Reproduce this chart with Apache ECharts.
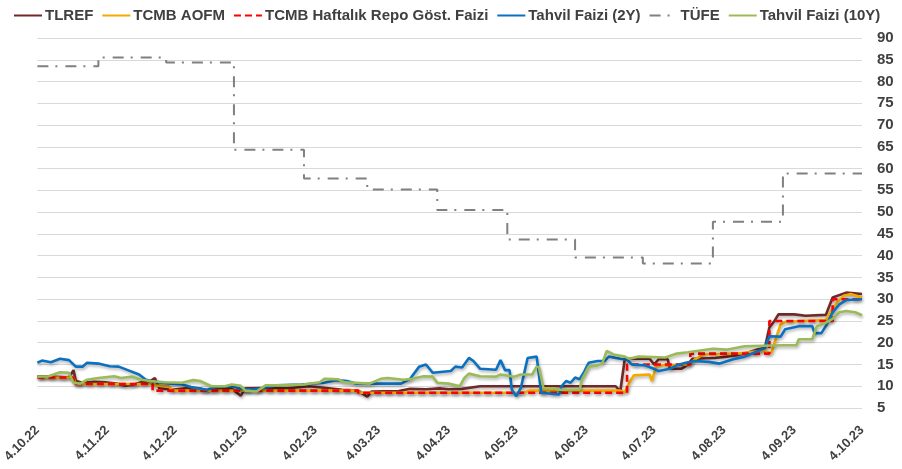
<!DOCTYPE html>
<html>
<head>
<meta charset="utf-8">
<script src="https://cdn.jsdelivr.net/npm/echarts@6/dist/echarts.min.js"></script>
<style>
  html, body { margin: 0; padding: 0; background: #fff; }
  #chart { width: 902px; height: 469px; }
</style>
</head>
<body>
<div id="chart"></div>
<script>
// values, [date, %]
const startDate = '2022-10-04'
const tickDates = ['2022-10-04', '2022-11-04', '2022-12-04', '2023-01-04', '2023-02-04', '2023-03-04',
  '2023-04-04', '2023-05-04', '2023-06-04', '2023-07-04', '2023-08-04', '2023-09-04', '2023-10-04']

const tlref = [
  ['2022-10-04', 12.3], ['2022-10-09', 12.2], ['2022-10-14', 12.1], ['2022-10-18', 12.0], ['2022-10-20', 13.7],
  ['2022-10-21', 11.2], ['2022-10-24', 10.8], ['2022-10-29', 11.0], ['2022-11-03', 10.9], ['2022-11-08', 10.6],
  ['2022-11-12', 10.1], ['2022-11-15', 10.3], ['2022-11-19', 10.9], ['2022-11-23', 11.2], ['2022-11-25', 11.9],
  ['2022-11-27', 9.5], ['2022-12-03', 9.2], ['2022-12-09', 9.6], ['2022-12-15', 9.5], ['2022-12-19', 8.9],
  ['2022-12-23', 9.4], ['2022-12-29', 9.5], ['2023-01-02', 7.8], ['2023-01-04', 9.5], ['2023-01-12', 9.6],
  ['2023-01-22', 9.5], ['2023-02-01', 10.0], ['2023-02-09', 9.6], ['2023-02-16', 9.2], ['2023-02-23', 9.0],
  ['2023-02-27', 7.6], ['2023-03-01', 8.8], ['2023-03-13', 8.9], ['2023-03-18', 9.4], ['2023-03-25', 9.3],
  ['2023-03-31', 9.5], ['2023-04-04', 9.3], ['2023-04-10', 9.4], ['2023-04-18', 10.0], ['2023-06-17', 10.0],
  ['2023-06-19', 8.8], ['2023-06-21', 16.3], ['2023-07-02', 16.3], ['2023-07-04', 15.0], ['2023-07-06', 16.2],
  ['2023-07-10', 16.2], ['2023-07-11', 14.0], ['2023-07-16', 14.0], ['2023-07-18', 14.6], ['2023-07-21', 16.3],
  ['2023-07-31', 16.5], ['2023-08-05', 16.8], ['2023-08-10', 17.2], ['2023-08-15', 17.8], ['2023-08-19', 18.5],
  ['2023-08-22', 18.8], ['2023-08-24', 23.5], ['2023-08-26', 24.8], ['2023-08-28', 26.5], ['2023-09-04', 26.5],
  ['2023-09-09', 26.2], ['2023-09-18', 26.4], ['2023-09-21', 30.4], ['2023-09-27', 31.5], ['2023-10-04', 31.2]
]

const aofm = [
  ['2022-10-04', 12.0], ['2022-10-20', 12.0], ['2022-10-21', 10.5], ['2022-11-24', 10.5], ['2022-11-25', 10.2],
  ['2022-12-01', 10.0], ['2022-12-03', 9.0], ['2023-02-23', 9.0], ['2023-02-24', 8.5], ['2023-05-07', 8.5],
  ['2023-05-10', 9.0], ['2023-06-19', 9.0], ['2023-06-21', 8.6], ['2023-06-23', 10.8], ['2023-06-25', 12.5],
  ['2023-07-02', 12.7], ['2023-07-03', 11.2], ['2023-07-05', 14.8], ['2023-07-20', 15.0], ['2023-07-22', 16.2],
  ['2023-07-26', 17.3], ['2023-08-10', 17.5], ['2023-08-20', 18.1], ['2023-08-25', 17.7], ['2023-08-27', 21.2],
  ['2023-08-29', 24.2], ['2023-08-31', 24.8], ['2023-09-18', 25.2], ['2023-09-20', 27.0], ['2023-09-23', 29.2],
  ['2023-09-26', 30.8], ['2023-09-29', 31.2], ['2023-10-04', 30.4]
]

// policy rate, held until the next date
const repo = [
  ['2022-10-04', 12], ['2022-10-20', 10.5], ['2022-11-24', 9], ['2023-02-23', 8.5], ['2023-06-22', 15],
  ['2023-07-20', 17.5], ['2023-08-24', 25], ['2023-09-21', 30], ['2023-10-04', 30]
]

const bond2y = [
  ['2022-10-04', 15.4], ['2022-10-06', 15.9], ['2022-10-10', 15.5], ['2022-10-14', 16.3], ['2022-10-18', 16.0],
  ['2022-10-21', 14.5], ['2022-10-24', 14.5], ['2022-10-26', 15.4], ['2022-10-31', 15.2], ['2022-11-05', 14.6],
  ['2022-11-09', 14.5], ['2022-11-13', 13.7], ['2022-11-18', 12.7], ['2022-11-21', 11.5], ['2022-11-26', 10.9],
  ['2022-12-02', 10.6], ['2022-12-07', 10.4], ['2022-12-11', 9.8], ['2022-12-18', 9.2], ['2022-12-22', 9.8],
  ['2022-12-29', 10.0], ['2023-01-02', 9.4], ['2023-01-07', 9.2], ['2023-01-12', 9.6], ['2023-01-18', 10.2],
  ['2023-01-29', 10.4], ['2023-02-08', 10.8], ['2023-02-13', 11.4], ['2023-02-18', 11.2], ['2023-02-22', 10.6],
  ['2023-03-08', 10.6], ['2023-03-14', 10.6], ['2023-03-18', 11.7], ['2023-03-22', 14.5], ['2023-03-25', 15.0],
  ['2023-03-28', 13.1], ['2023-04-05', 13.5], ['2023-04-07', 14.5], ['2023-04-10', 14.3], ['2023-04-13', 16.5],
  ['2023-04-15', 15.8], ['2023-04-18', 14.0], ['2023-04-25', 13.8], ['2023-04-27', 16.0], ['2023-04-29', 13.7],
  ['2023-05-01', 13.7], ['2023-05-02', 9.2], ['2023-05-04', 7.7], ['2023-05-06', 9.6], ['2023-05-09', 16.5],
  ['2023-05-13', 16.8], ['2023-05-15', 8.5], ['2023-05-23', 8.1], ['2023-05-24', 10.0], ['2023-05-26', 11.2],
  ['2023-05-28', 10.8], ['2023-05-30', 12.0], ['2023-06-01', 11.6], ['2023-06-03', 13.3], ['2023-06-05', 15.4],
  ['2023-06-09', 15.8], ['2023-06-12', 15.8], ['2023-06-14', 16.8], ['2023-06-19', 16.3], ['2023-06-22', 16.1],
  ['2023-06-24', 15.0], ['2023-06-30', 14.8], ['2023-07-03', 14.2], ['2023-07-06', 13.5], ['2023-07-11', 14.0],
  ['2023-07-14', 14.8], ['2023-07-18', 15.4], ['2023-07-22', 15.8], ['2023-07-28', 15.6], ['2023-08-02', 15.2],
  ['2023-08-08', 16.2], ['2023-08-13', 16.8], ['2023-08-19', 18.1], ['2023-08-22', 18.8], ['2023-08-24', 21.5],
  ['2023-08-29', 21.4], ['2023-08-31', 23.1], ['2023-09-06', 23.8], ['2023-09-12', 23.8], ['2023-09-13', 22.2],
  ['2023-09-16', 22.2], ['2023-09-18', 23.8], ['2023-09-21', 27.0], ['2023-09-24', 28.8], ['2023-09-27', 29.8],
  ['2023-10-04', 30.0]
]

// monthly CPI, held until the next date
const tufe = [
  ['2022-10-04', 83.5], ['2022-10-31', 85.5], ['2022-11-30', 84.4], ['2022-12-30', 64.3], ['2023-01-30', 57.7],
  ['2023-02-27', 55.2], ['2023-03-30', 50.5], ['2023-04-30', 43.7], ['2023-05-30', 39.6], ['2023-06-29', 38.2],
  ['2023-07-30', 47.8], ['2023-08-30', 58.9], ['2023-10-04', 58.9]
]

const bond10y = [
  ['2022-10-04', 12.2], ['2022-10-09', 12.3], ['2022-10-14', 13.2], ['2022-10-18', 13.1], ['2022-10-20', 10.8],
  ['2022-10-23', 10.6], ['2022-10-26', 11.5], ['2022-10-31', 11.9], ['2022-11-07', 12.3], ['2022-11-10', 11.9],
  ['2022-11-15', 12.2], ['2022-11-19', 11.5], ['2022-11-23', 11.2], ['2022-11-29', 10.9], ['2022-12-07', 10.8],
  ['2022-12-12', 11.4], ['2022-12-15', 11.2], ['2022-12-20', 10.0], ['2022-12-26', 10.0], ['2022-12-29', 10.4],
  ['2023-01-02', 10.1], ['2023-01-04', 9.0], ['2023-01-09', 8.8], ['2023-01-13', 10.2], ['2023-01-22', 10.2],
  ['2023-01-30', 10.4], ['2023-02-06', 10.9], ['2023-02-08', 11.7], ['2023-02-14', 11.6], ['2023-02-17', 10.9],
  ['2023-02-28', 10.6], ['2023-03-05', 11.7], ['2023-03-08', 11.9], ['2023-03-15', 11.5], ['2023-03-19', 11.7],
  ['2023-03-24', 12.3], ['2023-03-28', 12.2], ['2023-03-30', 10.8], ['2023-04-04', 10.6], ['2023-04-09', 10.0],
  ['2023-04-11', 11.9], ['2023-04-13', 12.9], ['2023-04-18', 12.3], ['2023-04-25', 12.2], ['2023-04-27', 12.7],
  ['2023-05-03', 12.2], ['2023-05-06', 12.7], ['2023-05-11', 12.7], ['2023-05-13', 14.5], ['2023-05-14', 14.3],
  ['2023-05-16', 9.6], ['2023-05-21', 9.5], ['2023-05-23', 9.2], ['2023-06-01', 9.2], ['2023-06-02', 11.5],
  ['2023-06-05', 14.5], ['2023-06-09', 14.8], ['2023-06-11', 15.2], ['2023-06-13', 18.1], ['2023-06-16', 17.3],
  ['2023-06-21', 16.8], ['2023-06-23', 16.3], ['2023-06-27', 16.8], ['2023-07-09', 16.6], ['2023-07-14', 17.5],
  ['2023-07-19', 17.8], ['2023-07-30', 18.6], ['2023-08-05', 18.4], ['2023-08-13', 19.2], ['2023-08-30', 19.4],
  ['2023-09-05', 19.4], ['2023-09-06', 20.8], ['2023-09-12', 20.8], ['2023-09-14', 23.8], ['2023-09-18', 24.6],
  ['2023-09-21', 25.5], ['2023-09-24', 27.0], ['2023-09-27', 27.3], ['2023-10-01', 27.0], ['2023-10-04', 26.3]
]

const DAY = 86400000
const t0 = Date.parse(startDate)
const toDay = s => (Date.parse(s) - t0) / DAY
const toXY = arr => arr.map(p => [toDay(p[0]), p[1]])

const dayLabel = v => {
  const d = new Date(t0 + v * DAY)
  const m = d.getUTCMonth() + 1
  return d.getUTCDate() + '.' + (m < 10 ? '0' + m : m) + '.' + String(d.getUTCFullYear()).slice(2)
}

const textColor = '#404040'
const shadow = { shadowColor: 'rgba(0,0,0,0.3)', shadowBlur: 3, shadowOffsetY: 2, shadowOffsetX: 1 }

const lineSeries = (name, data, color, extra) => Object.assign({
  name,
  type: 'line',
  data: toXY(data),
  symbol: 'none',
  lineStyle: Object.assign({ color, width: 2.6 }, shadow),
  itemStyle: { color }
}, extra || {})

const chart = echarts.init(document.getElementById('chart'))
chart.setOption({
  animation: false,
  backgroundColor: '#fff',
  textStyle: { fontFamily: 'Liberation Sans, Arial, sans-serif' },
  legend: {
    left: 8,
    top: 3,
    itemWidth: 28,
    itemHeight: 10,
    itemGap: 8,
    itemStyle: { opacity: 0 },
    lineStyle: { shadowBlur: 0, shadowOffsetX: 0, shadowOffsetY: 0 },
    textStyle: { fontSize: 15, fontWeight: 'bold', color: textColor, padding: [0, 0, 0, -2] }
  },
  grid: { left: 35, right: 40, top: 38, bottom: 61 },
  xAxis: {
    type: 'value',
    min: 0,
    max: toDay(tickDates[tickDates.length - 1]),
    axisLine: { show: false },
    axisTick: { show: false },
    splitLine: { show: false },
    axisLabel: {
      customValues: tickDates.map(toDay),
      formatter: v => dayLabel(v),
      rotate: 45,
      margin: 20,
      fontSize: 13,
      fontWeight: 'bold',
      color: textColor
    }
  },
  yAxis: {
    type: 'value',
    position: 'right',
    min: 5,
    max: 90,
    interval: 5,
    axisLine: { show: false },
    axisTick: { show: false },
    splitLine: { lineStyle: { color: '#d9d9d9', width: 1 } },
    axisLabel: { margin: 15, fontSize: 15, fontWeight: 'bold', color: textColor }
  },
  series: [
    lineSeries('TLREF', tlref, '#6e2a28'),
    lineSeries('TCMB AOFM', aofm, '#f2a900'),
    lineSeries('TCMB Haftalık Repo Göst. Faizi', repo, '#ff0000', {
      step: 'end',
      lineStyle: Object.assign({ color: '#ff0000', width: 2.6, type: [7, 4] }, shadow)
    }),
    lineSeries('Tahvil Faizi (2Y)', bond2y, '#0a70c0'),
    lineSeries('TÜFE', tufe, '#808080', {
      step: 'end',
      lineStyle: { color: '#808080', width: 2, type: [11, 7, 2, 8] }
    }),
    lineSeries('Tahvil Faizi (10Y)', bond10y, '#9bbb59')
  ]
})
</script>
</body>
</html>
